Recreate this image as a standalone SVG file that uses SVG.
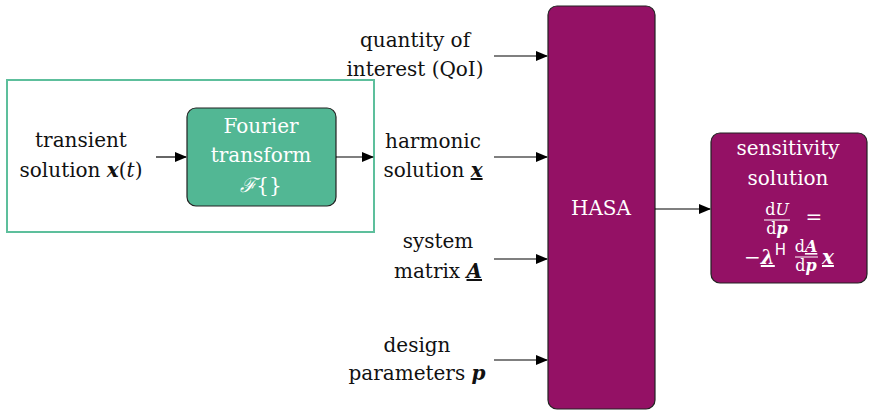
<svg xmlns="http://www.w3.org/2000/svg" width="871" height="411" viewBox="0 0 871 411">
<defs>
<marker id="ah" markerWidth="12" markerHeight="10" refX="11" refY="5" orient="auto" markerUnits="userSpaceOnUse">
<path d="M0,0 L12,5 L0,10 Z" fill="#000"/>
</marker>
<style>
text{font-family:"DejaVu Serif","Liberation Serif",serif;font-size:20px;fill:#111;}
.w{fill:#fff;}
.c{text-anchor:middle;}
.m{font-style:italic;font-weight:bold;}
.u{text-decoration:underline;}
.s{font-size:16px;}
.conn{stroke:#000;stroke-width:1.2;fill:none;marker-end:url(#ah);}
</style>
</defs>
<rect x="7" y="80" width="367" height="152" fill="none" stroke="#5dbf9c" stroke-width="2"/>
<g id="fourier">
<rect x="187" y="108" width="149" height="98" rx="9" fill="#52b794" stroke="#222" stroke-width="1.2"/>
<text class="w c" x="261" y="133">Fourier</text>
<text class="w c" x="261" y="162">transform</text>
<text class="w c" x="261" y="192"><tspan font-style="italic">ℱ</tspan>{}</text>
</g>
<g id="transient">
<text class="c" x="81" y="147">transient</text>
<text class="c" x="81" y="177">solution <tspan class="m">x</tspan>(<tspan font-style="italic">t</tspan>)</text>
</g>
<g id="qoi">
<text class="c" x="415" y="47">quantity of</text>
<text class="c" x="415" y="76">interest (QoI)</text>
</g>
<g id="harmonic">
<text class="c" x="433" y="148">harmonic</text>
<text class="c" x="433" y="177">solution <tspan class="m u">x</tspan></text>
</g>
<g id="system">
<text class="c" x="438" y="248">system</text>
<text class="c" x="438" y="278">matrix <tspan class="m u">A</tspan></text>
</g>
<g id="design">
<text class="c" x="417" y="352">design</text>
<text class="c" x="417" y="380">parameters <tspan class="m">p</tspan></text>
</g>
<g id="hasa">
<rect x="548" y="6" width="107" height="403" rx="9" fill="#941165" stroke="#222" stroke-width="1.2"/>
<text class="w c" x="601" y="215">HASA</text>
</g>
<g id="sensitivity">
<rect x="711" y="133" width="156" height="150" rx="9" fill="#941165" stroke="#222" stroke-width="1.2"/>
<text class="w c" x="788" y="155">sensitivity</text>
<text class="w c" x="788" y="185">solution</text>
<text class="w c s" x="777" y="215">d<tspan font-style="italic">U</tspan></text>
<line x1="764" y1="220" x2="790" y2="220" stroke="#fff" stroke-width="1"/>
<text class="w c s" x="777" y="234">d<tspan class="m">p</tspan></text>
<text class="w c" x="814" y="224">=</text>
<text class="w" x="744" y="264" font-size="22">−<tspan class="m u">λ</tspan><tspan font-family="DejaVu Sans" font-size="15" dy="-9">H</tspan></text>
<text class="w c s" x="806" y="252">d<tspan class="m u">A</tspan></text>
<line x1="795" y1="257" x2="818" y2="257" stroke="#fff" stroke-width="1"/>
<text class="w c s" x="806" y="271">d<tspan class="m">p</tspan></text>
<text class="w m u" x="822" y="264" font-size="22">x</text>
</g>
<g id="connectors">
<line class="conn" x1="156" y1="157" x2="186" y2="157"/>
<line class="conn" x1="336" y1="157" x2="373" y2="157"/>
<line class="conn" x1="494" y1="56" x2="547" y2="56"/>
<line class="conn" x1="494" y1="157" x2="547" y2="157"/>
<line class="conn" x1="494" y1="259" x2="547" y2="259"/>
<line class="conn" x1="494" y1="360" x2="547" y2="360"/>
<line class="conn" x1="655" y1="209" x2="710" y2="209"/>
</g>
</svg>
